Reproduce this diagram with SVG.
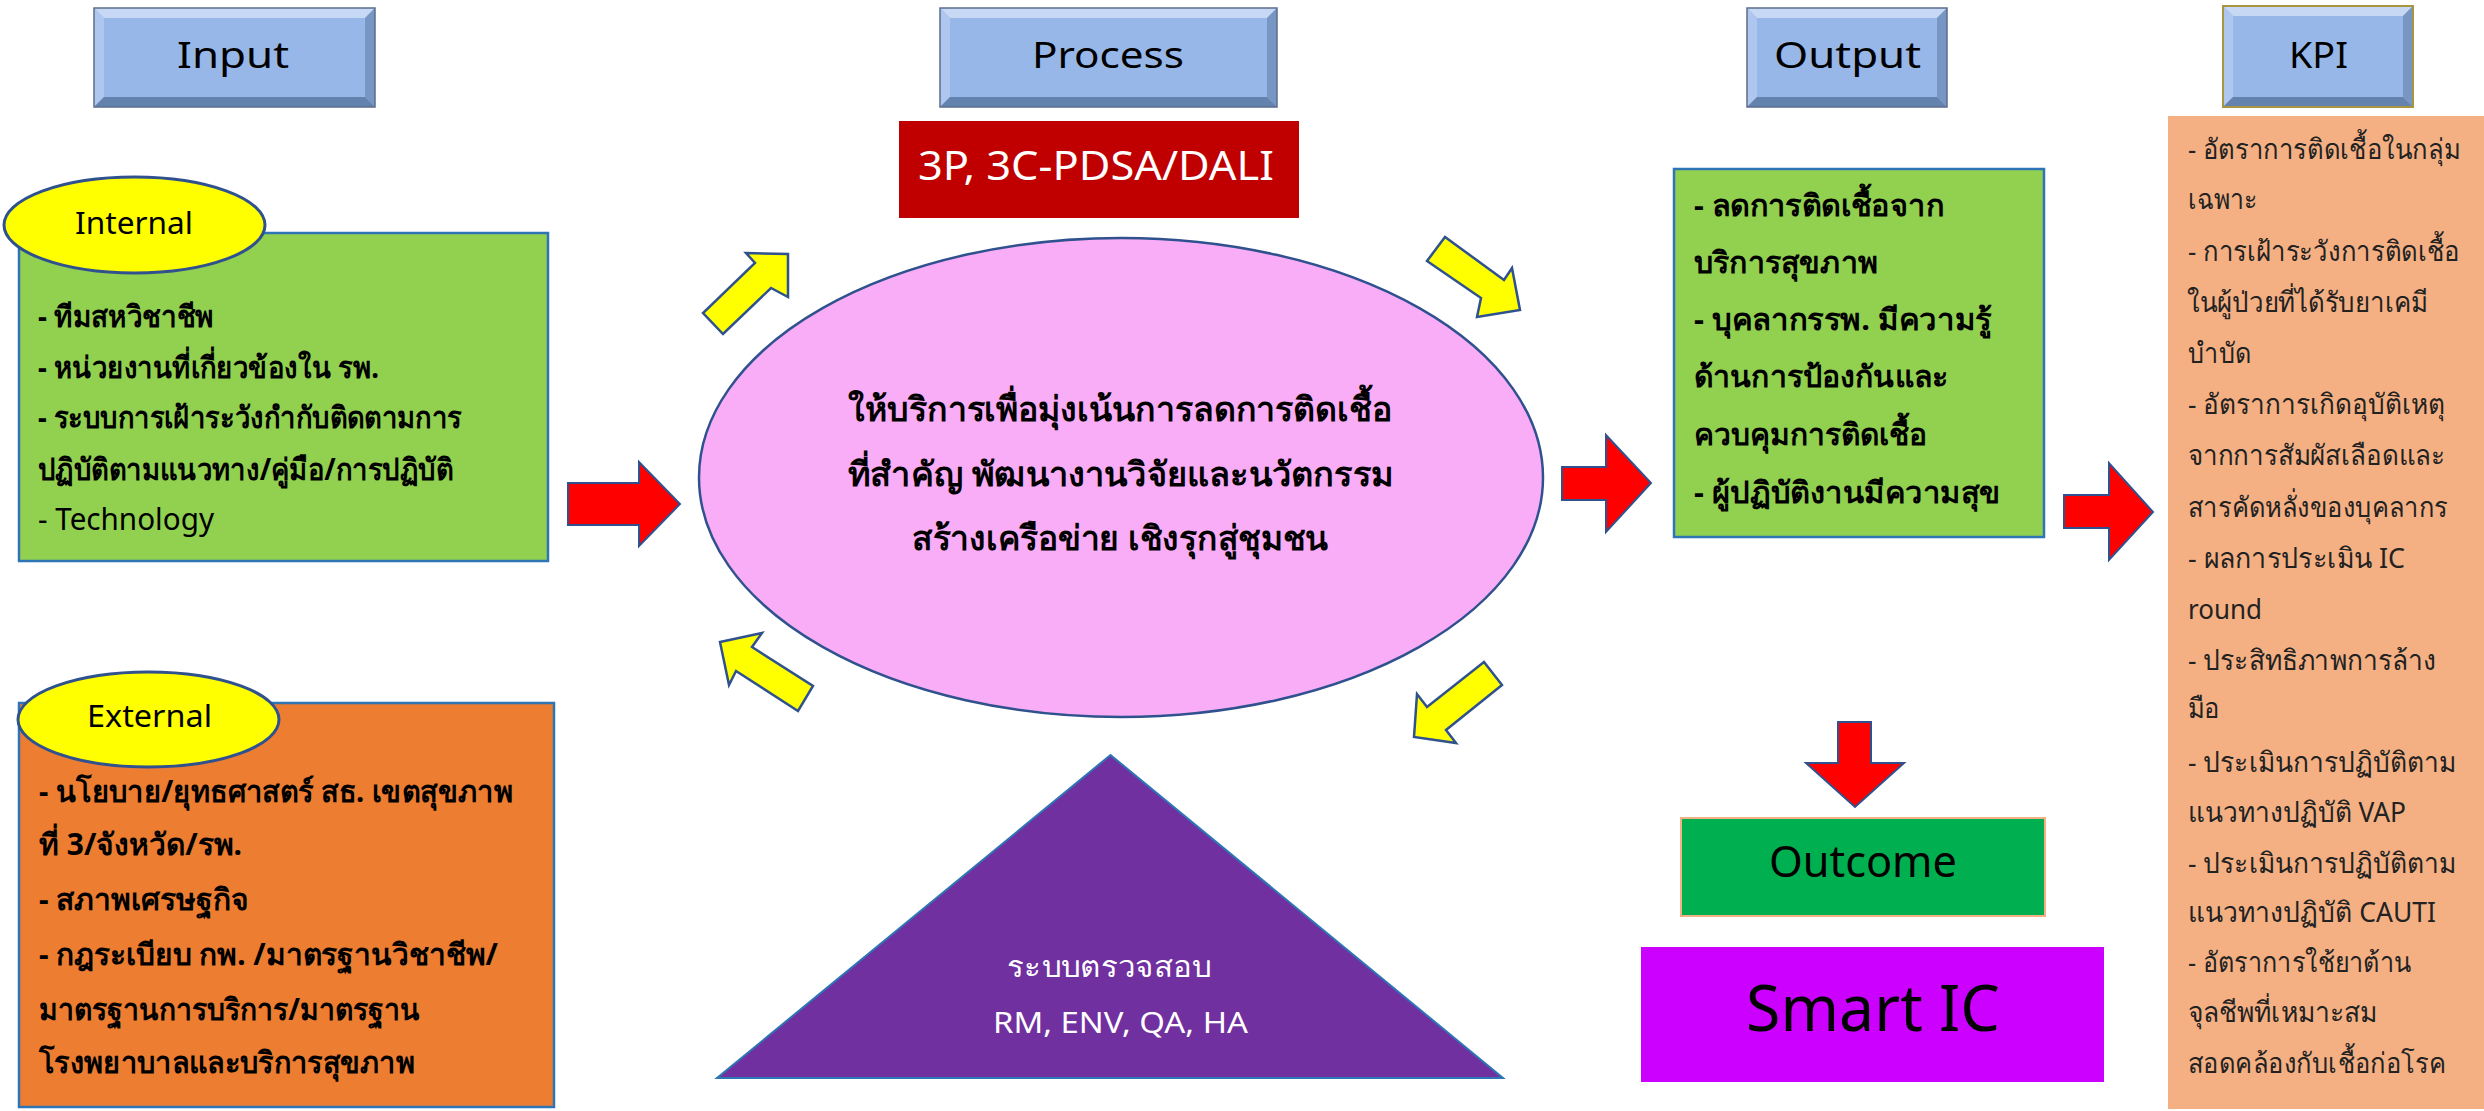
<svg xmlns="http://www.w3.org/2000/svg" width="2484" height="1111" viewBox="0 0 2484 1111">
<style>
text{font-family:"Noto Sans","Open Sans",sans-serif;}
.hface{fill:#97B7E9;}
.btop{fill:#C6D8F4;}
.bleft{fill:#AFC7EE;}
.bright{fill:#7896C4;}
.bbot{fill:#6482AE;}
.hout{fill:none;stroke:#5B6E8C;stroke-width:1.5;}
.htxt{font-size:37px;fill:#000;text-anchor:start;}
.lst{font-size:30px;font-weight:bold;fill:#000;}
.lst.reg{font-weight:normal;}
.kpi{font-size:28px;font-weight:normal;fill:#222;}
.redarr{fill:#FF0000;stroke:#2F528F;stroke-width:2;stroke-linejoin:miter;}
.yelarr{fill:#FFFF00;stroke:#2F528F;stroke-width:2.5;stroke-linejoin:miter;}
.lab{fill:#FFFF00;stroke:#2F528F;stroke-width:3;}
.labtxt{font-size:31px;fill:#000;}
</style>

<g id="hdr-input">
<rect class="hface" x="94" y="8" width="281" height="99"/>
<polygon class="btop" points="94,8 375,8 365,18 104,18"/>
<polygon class="bleft" points="94,8 104,18 104,97 94,107"/>
<polygon class="bright" points="375,8 375,107 365,97 365,18"/>
<polygon class="bbot" points="94,107 104,97 365,97 375,107"/>
<rect class="hout" x="94" y="8" width="281" height="99"/>
<text class="htxt" x="177" y="68" textLength="112" lengthAdjust="spacingAndGlyphs">Input</text>
</g>

<g id="hdr-process">
<rect class="hface" x="940" y="8" width="337" height="99"/>
<polygon class="btop" points="940,8 1277,8 1267,18 950,18"/>
<polygon class="bleft" points="940,8 950,18 950,97 940,107"/>
<polygon class="bright" points="1277,8 1277,107 1267,97 1267,18"/>
<polygon class="bbot" points="940,107 950,97 1267,97 1277,107"/>
<rect class="hout" x="940" y="8" width="337" height="99"/>
<text class="htxt" x="1032" y="68" textLength="152" lengthAdjust="spacingAndGlyphs">Process</text>
</g>

<g id="hdr-output">
<rect class="hface" x="1747" y="8" width="200" height="99"/>
<polygon class="btop" points="1747,8 1947,8 1937,18 1757,18"/>
<polygon class="bleft" points="1747,8 1757,18 1757,97 1747,107"/>
<polygon class="bright" points="1947,8 1947,107 1937,97 1937,18"/>
<polygon class="bbot" points="1747,107 1757,97 1937,97 1947,107"/>
<rect class="hout" x="1747" y="8" width="200" height="99"/>
<text class="htxt" x="1774" y="68" textLength="147" lengthAdjust="spacingAndGlyphs">Output</text>
</g>

<g id="hdr-kpi">
<rect class="hface" x="2223" y="6" width="190" height="101"/>
<polygon class="btop" points="2223,6 2413,6 2403,16 2233,16"/>
<polygon class="bleft" points="2223,6 2233,16 2233,97 2223,107"/>
<polygon class="bright" points="2413,6 2413,107 2403,97 2403,16"/>
<polygon class="bbot" points="2223,107 2233,97 2403,97 2413,107"/>
<rect x="2223" y="6" width="190" height="101" fill="none" stroke="#A8953F" stroke-width="2"/>
<text class="htxt" x="2289" y="68" textLength="59" lengthAdjust="spacingAndGlyphs">KPI</text>
</g>

<g id="internal">
<rect x="19" y="233" width="529" height="328" fill="#92D050" stroke="#2E75B6" stroke-width="2.5"/>
<text class="lst" x="38" y="327" textLength="176" lengthAdjust="spacingAndGlyphs">- ทีมสหวิชาชีพ</text>
<text class="lst" x="38" y="378" textLength="341" lengthAdjust="spacingAndGlyphs">- หน่วยงานที่เกี่ยวข้องใน รพ.</text>
<text class="lst" x="38" y="428" textLength="424" lengthAdjust="spacingAndGlyphs">- ระบบการเฝ้าระวังกำกับติดตามการ</text>
<text class="lst" x="38" y="480" textLength="415" lengthAdjust="spacingAndGlyphs">ปฏิบัติตามแนวทาง/คู่มือ/การปฏิบัติ</text>
<text class="lst reg" x="38" y="530" textLength="176" lengthAdjust="spacingAndGlyphs">- Technology</text>
</g>
<g id="internal-label">
<ellipse class="lab" cx="134.5" cy="225" rx="130.5" ry="48"/>
<text class="labtxt" x="75" y="234" textLength="118" lengthAdjust="spacingAndGlyphs">Internal</text>
</g>

<g id="external">
<rect x="19" y="703" width="535" height="404" fill="#ED7D31" stroke="#2E75B6" stroke-width="2.5"/>
<text class="lst" x="39" y="802" textLength="474" lengthAdjust="spacingAndGlyphs">- นโยบาย/ยุทธศาสตร์ สธ. เขตสุขภาพ</text>
<text class="lst" x="39" y="855" textLength="203" lengthAdjust="spacingAndGlyphs">ที่ 3/จังหวัด/รพ.</text>
<text class="lst" x="39" y="910" textLength="210" lengthAdjust="spacingAndGlyphs">- สภาพเศรษฐกิจ</text>
<text class="lst" x="39" y="965" textLength="459" lengthAdjust="spacingAndGlyphs">- กฎระเบียบ กพ. /มาตรฐานวิชาชีพ/</text>
<text class="lst" x="39" y="1020" textLength="381" lengthAdjust="spacingAndGlyphs">มาตรฐานการบริการ/มาตรฐาน</text>
<text class="lst" x="39" y="1073" textLength="376" lengthAdjust="spacingAndGlyphs">โรงพยาบาลและบริการสุขภาพ</text>
</g>
<g id="external-label">
<ellipse class="lab" cx="148.5" cy="719.5" rx="130.5" ry="47.5"/>
<text class="labtxt" x="87" y="727" textLength="125" lengthAdjust="spacingAndGlyphs">External</text>
</g>

<g id="method">
<rect x="899" y="121" width="400" height="97" fill="#C00000"/>
<text x="918" y="180" font-size="40" fill="#FFFFFF" textLength="356" lengthAdjust="spacingAndGlyphs">3P, 3C-PDSA/DALI</text>
</g>

<g id="process">
<ellipse cx="1121" cy="477.5" rx="422" ry="239.5" fill="#FAADF7" stroke="#2F528F" stroke-width="2.5"/>
<text x="848" y="421" font-size="34" font-weight="bold" textLength="544" lengthAdjust="spacingAndGlyphs">ให้บริการเพื่อมุ่งเน้นการลดการติดเชื้อ</text>
<text x="848" y="486" font-size="34" font-weight="bold" textLength="545" lengthAdjust="spacingAndGlyphs">ที่สำคัญ พัฒนางานวิจัยและนวัตกรรม</text>
<text x="912" y="550" font-size="34" font-weight="bold" textLength="416" lengthAdjust="spacingAndGlyphs">สร้างเครือข่าย เชิงรุกสู่ชุมชน</text>
</g>

<g id="audit">
<polygon points="1110.5,755 1503,1078 717,1078" fill="#7030A0" stroke="#2E75B6" stroke-width="2"/>
<text x="1007" y="977" font-size="29" fill="#FFFFFF" textLength="204" lengthAdjust="spacingAndGlyphs">ระบบตรวจสอบ</text>
<text x="993" y="1033" font-size="29" fill="#FFFFFF" textLength="255" lengthAdjust="spacingAndGlyphs">RM, ENV, QA, HA</text>
</g>

<g id="output">
<rect x="1674" y="169" width="370" height="368" fill="#92D050" stroke="#2E75B6" stroke-width="2.5"/>
<text class="lst" x="1694" y="216" textLength="250" lengthAdjust="spacingAndGlyphs">- ลดการติดเชื้อจาก</text>
<text class="lst" x="1694" y="273" textLength="184" lengthAdjust="spacingAndGlyphs">บริการสุขภาพ</text>
<text class="lst" x="1694" y="330" textLength="298" lengthAdjust="spacingAndGlyphs">- บุคลากรรพ. มีความรู้</text>
<text class="lst" x="1694" y="387" textLength="254" lengthAdjust="spacingAndGlyphs">ด้านการป้องกันและ</text>
<text class="lst" x="1694" y="445" textLength="233" lengthAdjust="spacingAndGlyphs">ควบคุมการติดเชื้อ</text>
<text class="lst" x="1694" y="503" textLength="307" lengthAdjust="spacingAndGlyphs">- ผู้ปฏิบัติงานมีความสุข</text>
</g>

<g id="outcome">
<rect x="1681" y="818" width="364" height="98" fill="#00B050" stroke="#F4B183" stroke-width="2"/>
<text x="1769" y="877" font-size="44" fill="#000" textLength="188" lengthAdjust="spacingAndGlyphs">Outcome</text>
</g>

<g id="smart-ic">
<rect x="1641" y="947" width="463" height="135" fill="#CC00FF"/>
<text x="1746" y="1031" font-size="64" fill="#000" textLength="254" lengthAdjust="spacingAndGlyphs">Smart IC</text>
</g>

<g id="kpi">
<rect x="2168" y="116" width="316" height="993" fill="#F4B083"/>
<text class="kpi" x="2188" y="159" textLength="272" lengthAdjust="spacingAndGlyphs">- อัตราการติดเชื้อในกลุ่ม</text>
<text class="kpi" x="2188" y="209" textLength="69" lengthAdjust="spacingAndGlyphs">เฉพาะ</text>
<text class="kpi" x="2188" y="261" textLength="272" lengthAdjust="spacingAndGlyphs">- การเฝ้าระวังการติดเชื้อ</text>
<text class="kpi" x="2187" y="312" textLength="241" lengthAdjust="spacingAndGlyphs">ในผู้ป่วยที่ได้รับยาเคมี</text>
<text class="kpi" x="2188" y="363" textLength="63" lengthAdjust="spacingAndGlyphs">บำบัด</text>
<text class="kpi" x="2188" y="414" textLength="257" lengthAdjust="spacingAndGlyphs">- อัตราการเกิดอุบัติเหตุ</text>
<text class="kpi" x="2188" y="465" textLength="257" lengthAdjust="spacingAndGlyphs">จากการสัมผัสเลือดและ</text>
<text class="kpi" x="2188" y="517" textLength="260" lengthAdjust="spacingAndGlyphs">สารคัดหลั่งของบุคลากร</text>
<text class="kpi" x="2188" y="568" textLength="217" lengthAdjust="spacingAndGlyphs">- ผลการประเมิน IC</text>
<text class="kpi" x="2188" y="619" textLength="74" lengthAdjust="spacingAndGlyphs">round</text>
<text class="kpi" x="2188" y="670" textLength="248" lengthAdjust="spacingAndGlyphs">- ประสิทธิภาพการล้าง</text>
<text class="kpi" x="2188" y="718" textLength="32" lengthAdjust="spacingAndGlyphs">มือ</text>
<text class="kpi" x="2188" y="772" textLength="268" lengthAdjust="spacingAndGlyphs">- ประเมินการปฏิบัติตาม</text>
<text class="kpi" x="2188" y="822" textLength="218" lengthAdjust="spacingAndGlyphs">แนวทางปฏิบัติ VAP</text>
<text class="kpi" x="2188" y="873" textLength="268" lengthAdjust="spacingAndGlyphs">- ประเมินการปฏิบัติตาม</text>
<text class="kpi" x="2188" y="922" textLength="248" lengthAdjust="spacingAndGlyphs">แนวทางปฏิบัติ CAUTI</text>
<text class="kpi" x="2188" y="972" textLength="223" lengthAdjust="spacingAndGlyphs">- อัตราการใช้ยาต้าน</text>
<text class="kpi" x="2188" y="1022" textLength="189" lengthAdjust="spacingAndGlyphs">จุลชีพที่เหมาะสม</text>
<text class="kpi" x="2188" y="1073" textLength="258" lengthAdjust="spacingAndGlyphs">สอดคล้องกับเชื้อก่อโรค</text>
</g>

<g id="connectors">
<polygon class="redarr" points="568,483 639,483 639,462 680,504 639,546 639,525 568,525"/>
<polygon class="redarr" points="1562,467 1606,467 1606,435 1651,483 1606,532 1606,500 1562,500"/>
<polygon class="redarr" points="2064,495 2109,495 2109,463 2153,512 2109,560 2109,528 2064,528"/>
<polygon class="redarr" points="1838,722 1871,722 1871,763 1904,763 1855,807 1806,763 1838,763"/>
<polygon class="yelarr" points="746,253 788,254 788,297 771,288 723,334 703,313 755,263"/>
<polygon class="yelarr" points="1445,237 1427,261 1481,298 1477,317 1520,310 1512,268 1504,280"/>
<polygon class="yelarr" points="720,642 762,633 752,647 813,686 798,711 736,671 729,685"/>
<polygon class="yelarr" points="1484,662 1502,685 1446,730 1456,743 1414,737 1417,694 1427,707"/>
</g>
</svg>
